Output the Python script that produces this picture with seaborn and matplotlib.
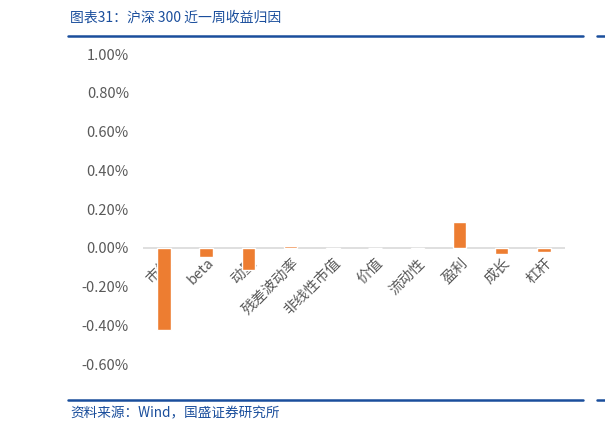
import matplotlib
matplotlib.use('Agg')
import matplotlib.pyplot as plt
import matplotlib.transforms as mtrans
from matplotlib.lines import Line2D
from matplotlib.ticker import FuncFormatter
import pandas as pd
import seaborn as sns

# factor returns over the last week (in %)
factors = ['市值', 'beta', '动量', '残差波动率', '非线性市值', '价值', '流动性', '盈利', '成长', '杠杆']
returns = [-0.423, -0.046, -0.113, 0.008, -0.005, 0.0, -0.005, 0.135, -0.030, -0.022]

title = '图表31：沪深 300 近一周收益归因'
source = '资料来源：Wind，国盛证券研究所'

sns.set_theme(style='white')
plt.rcParams['font.family'] = ['Noto Sans CJK SC', 'DejaVu Sans']

df = pd.DataFrame({'factor': factors, 'ret': returns})

fig = plt.figure(figsize=(6.05, 4.32), dpi=100)
ax = fig.add_axes([0.236, 0.157, 0.698, 0.718])

sns.barplot(data=df, x='factor', y='ret', color='#ED7D31', saturation=1,
            width=0.32, ax=ax, zorder=2)

ax.set_ylim(-0.6, 1.0)
ax.set_yticks([-0.6, -0.4, -0.2, 0.0, 0.2, 0.4, 0.6, 0.8, 1.0])
ax.yaxis.set_major_formatter(FuncFormatter(lambda v, p: f'{v:.2f}%'))
ax.axhline(0, color='#D9D9D9', lw=1.2, zorder=0)
ax.set_xlabel('')
ax.set_ylabel('')
for s in ax.spines.values():
    s.set_visible(False)
ax.tick_params(axis='y', length=0, pad=10, labelsize=10.5, labelcolor='#595959')

# category labels hang from the zero line, rotated 45 degrees, behind the bars
ax.set_xticks(range(len(factors)))
ax.set_xticklabels([])
ax.tick_params(axis='x', length=0)
off = mtrans.ScaledTranslation(1 / 100, -8 / 100, fig.dpi_scale_trans)
for i, name in enumerate(factors):
    ax.text(i, 0, name, rotation=45, rotation_mode='anchor', ha='right', va='top',
            fontsize=10.5, color='#595959', transform=ax.transData + off, zorder=1)

# frame lines and texts
blue = '#1A4E9C'
for yy in (36, 400):
    fig.add_artist(Line2D([68 / 605, 583 / 605], [1 - yy / 432] * 2, color=blue, lw=1.8))
    fig.add_artist(Line2D([597 / 605, 1.0], [1 - yy / 432] * 2, color=blue, lw=1.8))
fig.text(70 / 605, 1 - 18 / 432, title, color=blue, fontsize=10, va='center')
fig.text(70 / 605, 1 - 413 / 432, source, color=blue, fontsize=9.8, va='center')

fig.savefig('out.png', dpi=100)
